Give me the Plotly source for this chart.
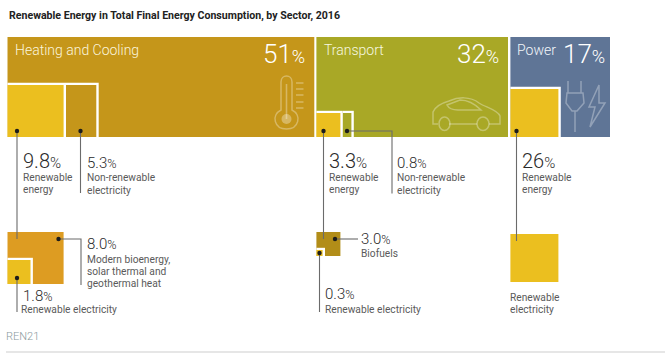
import plotly.graph_objects as go

title = "Renewable Energy in Total Final Energy Consumption, by Sector, 2016"
sectors = ["Heating and Cooling", "Transport", "Power"]
shares = [51, 32, 17]
heat_vals = ["9.8", "5.3", "8.0", "1.8"]
trans_vals = ["3.3", "0.8", "3.0", "0.3"]
power_vals = ["26"]

GOLD, OLIVE, SLATE = "#c5961a", "#a9a826", "#5f7596"
YEL, ORG, BRN = "#ebbf1f", "#dd9c22", "#b28d18"
INK, GREY = "#2a2a2a", "#5a5a5a"
FONT = "Roboto"
ICON = "rgba(255,255,255,0.32)"
DX = -2.4

shapes, ann = [], []

def rect(x0, y0, x1, y1, c, border=None):
    if border:
        shapes.append(dict(type="rect", x0=x0, y0=y0 - 2.2, x1=x1 + 2.4, y1=y1, fillcolor="white", line_width=0, layer="above"))
    shapes.append(dict(type="rect", x0=x0, y0=y0, x1=x1, y1=y1, fillcolor=c, line_width=0, layer="above"))

def path(d, color=ICON, w=1.5, fill=None):
    shapes.append(dict(type="path", path=d, line=dict(color=color, width=w), fillcolor=fill or "rgba(0,0,0,0)", layer="above"))

def line(pts, c="#6b6b6b", w=1.1):
    path("M" + " L".join(f"{x},{y}" for x, y in pts), c, w)

def text(x, y, s, size=10, color=GREY, font=FONT, anchor="left", weight=None):
    f = dict(size=size, color=color, family=font)
    if weight:
        f["weight"] = weight
    ann.append(dict(x=x + DX, y=y, text=s, showarrow=False, xanchor=anchor, yanchor="middle", align=anchor,
                    font=f, xref="x", yref="y"))

def pct(x, y, v, big, small, color=INK):
    text(x, y, f'{v}<span style="font-size:{small}px">%</span>', big, color, "Roboto", weight=300)

# sector panels: width proportional to share
UNIT = 6.0
xs = [7.5, 316.4, 510.4]
cols = [GOLD, OLIVE, SLATE]
for x, sh, c in zip(xs, shares, cols):
    rect(x, 37, x + sh * UNIT + (0.8 if sh == 51 else -0.4 if sh == 32 else -2.4), 137, c)

# sub squares
rect(7.5, 85, 63.6, 137, YEL, True)
rect(66, 85, 96.3, 137, GOLD, True)
rect(316.4, 113, 340.4, 137, YEL, True)
rect(343, 113, 351.4, 137, OLIVE, True)
rect(510.4, 89, 558.4, 137, YEL, True)

rect(7.5, 232, 63.6, 284, ORG)
rect(7.5, 260, 30.5, 284, YEL, True)
rect(316.4, 232, 340.4, 256, BRN)
rect(316.4, 250, 322.6, 256, YEL, True)
rect(510.4, 234, 558.4, 282, YEL)

# leader lines
line([(17, 131), (17, 239)])
line([(80.5, 131), (80.5, 193)])
line([(323.5, 131), (323.5, 239)])
line([(347, 131), (392, 131), (392, 193.5)])
line([(516.5, 131), (516.5, 241)])
line([(58.5, 239), (81, 239), (81, 285)])
line([(17, 278), (17, 312)])
line([(335, 239), (358, 239)])
line([(319.5, 253), (319.5, 312)])

# thermometer icon
path("M281,110 L281,82 C281,74 292,74 292,82 L292,110 C302,115 299,129 286.5,129 C274,129 271,115 281,110 Z")
path("M286.5,119 L286.5,84", w=1.6)
shapes.append(dict(type="circle", x0=281.5, y0=114, x1=291.5, y1=124, fillcolor=ICON, line_width=0, layer="above"))
for y in [83, 89, 95, 102, 108]:
    line([(296, y), (303.5, y)], ICON, 1.5)

# car icon
path("M438,124 L433,124 L433,112 C435,107 442,103 449,101 C458,97 470,96 479,103 C485,107 498,110 500,116 L500,124 L489,124 "
     "M477,124 L449,124 "
     "M447,105 C449,109 452,110 458,110 L481,110 C476,105 470,100 460,100 Z")
shapes.append(dict(type="circle", x0=439, y0=117, x1=450, y1=130.5, fillcolor="rgba(0,0,0,0)", line=dict(color=ICON, width=1.5), layer="above"))
shapes.append(dict(type="circle", x0=477, y0=117, x1=489, y1=130.5, fillcolor="rgba(0,0,0,0)", line=dict(color=ICON, width=1.5), layer="above"))

# plug and bolt icons
path("M568,81 L568,93 M581,81 L581,93 M567,93 L566,103 L572,111 L577,111 L584,103 L583,93 Z M575,111 L575,132")
path("M599,85 L589,107 L595,107 L590,127 L605,103 L599,103 Z")

# dots
for x, y in [(17, 131), (80.5, 131), (323.5, 131), (347, 131), (516.5, 131), (58.5, 239),
             (17, 278), (335, 239), (319.5, 253)]:
    shapes.append(dict(type="circle", x0=x - 2.2, y0=y - 2.2, x1=x + 2.2, y1=y + 2.2, fillcolor="#1c1c1c", line_width=0, layer="above"))

# titles
text(9.4, 15, title, 11.5, "#222222", FONT, weight=700)
text(15.5, 49.5, sectors[0], 14, "#fbf5dd", weight=300)
text(324, 49.5, sectors[1], 14, "#f7f8e0", weight=300)
text(517, 49.5, sectors[2], 14, "#f2f5fa", weight=300)
pct(263.5, 53.5, shares[0], 26, 18, "white")
pct(457.5, 53.5, shares[1], 26, 18, "white")
pct(563, 53.5, shares[2], 26, 18, "white")

# values
pct(23, 161, heat_vals[0], 20, 15)
pct(87.5, 162.5, heat_vals[1], 15, 12.5)
pct(87.5, 243.5, heat_vals[2], 15, 12.5)
pct(23, 296, heat_vals[3], 15, 12.5)
pct(329.5, 161, trans_vals[0], 20, 15)
pct(397, 162.5, trans_vals[1], 15, 12.5)
pct(361.5, 238.5, trans_vals[2], 15, 12.5)
pct(325, 294, trans_vals[3], 15, 12.5)
pct(522.5, 161, power_vals[0], 20, 15)

# captions
CAP = 10.2
for x, y, s in [(23.5, 177, "Renewable"), (23.5, 189, "energy"),
                (87.5, 177, "Non-renewable"), (87.5, 190, "electricity"),
                (87.5, 259, "Modern bioenergy,"), (87.5, 271, "solar thermal and"), (87.5, 283, "geothermal heat"),
                (21.5, 309, "Renewable electricity"),
                (329.5, 177, "Renewable"), (329.5, 189, "energy"),
                (397, 177, "Non-renewable"), (397, 190, "electricity"),
                (361.5, 253, "Biofuels"), (325.5, 309, "Renewable electricity"),
                (510.5, 297, "Renewable"), (510, 309, "electricity"),
                (522.5, 177, "Renewable"), (522.5, 189, "energy")]:
    text(x, y, s, CAP)

text(6, 336, "REN21", 11, "#8a9a9d", weight=300)
shapes.append(dict(type="line", x0=6, x1=665, y0=352, y1=352, line=dict(color="#dedede", width=1.5), layer="above"))

fig = go.Figure()
fig.update_layout(width=665, height=364, margin=dict(l=0, r=0, t=0, b=0), paper_bgcolor="white", plot_bgcolor="white",
                  xaxis=dict(range=[0, 665], visible=False, fixedrange=True),
                  yaxis=dict(range=[364, 0], visible=False, fixedrange=True),
                  shapes=shapes, annotations=ann, showlegend=False)
post = """
document.body.style.margin='0';document.body.style.overflow='hidden';
document.querySelectorAll('.annotation-text').forEach(function(t){
  if(t.textContent.indexOf('Renewable Energy in Total')===0){
    t.setAttribute('textLength','331');t.setAttribute('lengthAdjust','spacingAndGlyphs');
  }
});
"""
fig.write_html("out.html", config={"displayModeBar": False}, post_script=post)
